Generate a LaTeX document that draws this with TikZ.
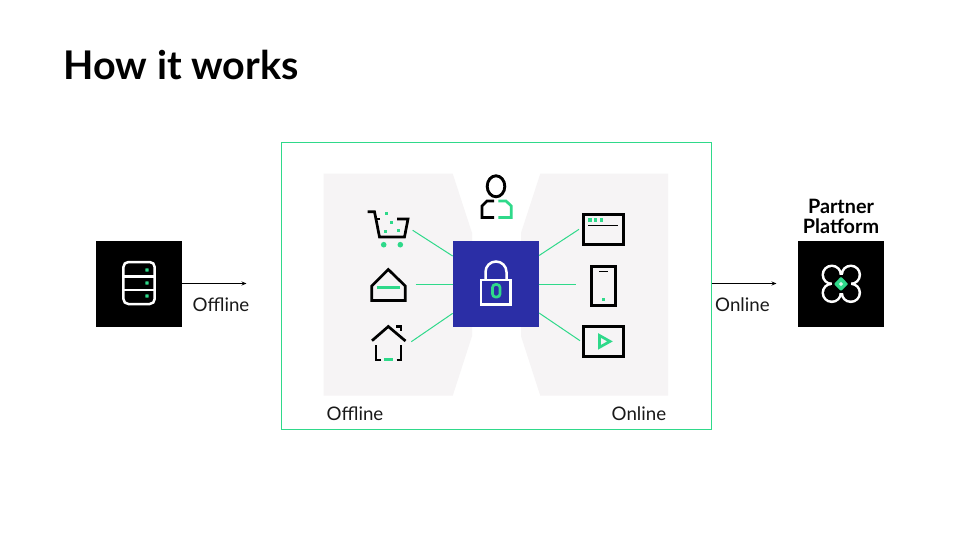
\documentclass[tikz,border=0pt]{standalone}
\usepackage{fontspec}
\setmainfont{Lato}
\usetikzlibrary{arrows.meta}
\definecolor{mint}{HTML}{2FD98A}
\definecolor{pale}{HTML}{F6F4F5}
\definecolor{hubblue}{HTML}{2B2EA6}
\tikzset{
  lab/.style={anchor=base west,inner sep=0pt,font=\fontsize{18.7}{20}\selectfont,text=black!90},
  blk/.style={draw=none,fill=black,minimum size=86pt,inner sep=0pt,outer sep=0pt},
  link/.style={draw=mint,line width=1pt},
  flow/.style={draw=black,line width=0.9pt,-{Stealth[length=5pt,width=4pt]}},
  ico/.style={draw=black,line width=2.7pt,line join=miter},
  gico/.style={draw=mint,line width=2.7pt},
  wico/.style={draw=white,line width=2.5pt},
  panel/.style={fill=pale,draw=none},
}
\begin{document}
\begin{tikzpicture}[x=1pt,y=-1pt]
\useasboundingbox (0,0) rectangle (960,540);
\fill[white] (0,0) rectangle (960,540);
\node[anchor=base west,inner sep=0pt,font=\fontsize{39.5}{42}\selectfont\bfseries] (title) at (63.5,79.2) {How it works};
% frame and panels
\draw[draw=mint,line width=1pt] (281.5,142.5) rectangle (711.5,429.7);
\fill[panel] (323.7,173.7) -- (452.7,173.7) -- (472,233) -- (472,336) -- (452.7,395.7) -- (323.7,395.7) -- cycle;
\fill[panel] (668,173.7) -- (540.3,173.7) -- (521,233) -- (521,336) -- (540.3,395.7) -- (668,395.7) -- cycle;
% nodes
\node[blk,fill=hubblue,minimum size=86.4pt] (hub) at (495.9,283.8) {};
\node[blk] (server) at (138.9,283.5) {};
\node[blk] (partner) at (841,283.5) {};
\coordinate (l1) at (412.7,230.3);
\coordinate (l2) at (415.7,284.4);
\coordinate (l3) at (411.3,341.7);
\coordinate (r1) at (579,229.3);
\coordinate (r2) at (575.7,284.4);
\coordinate (r3) at (580,340.7);
\foreach \c in {l1,l3,r1,r3} \draw[link] (\c) -- (hub);
\draw[link] (l2) -- (l2 -| hub.west);
\draw[link] (r2) -- (r2 -| hub.east);
\coordinate (arrL) at (246.5,283.5);
\coordinate (frameR) at (711.5,283.5);
\coordinate (arrR) at (776.5,283.5);
\draw[flow] (server.east) -- (arrL);
\draw[flow] (frameR) -- (arrR);
% labels
\node[lab] (offA) at (192.5,311) {Offline};
\node[lab] (onA) at (715,311) {Online};
\node[lab] (offB) at (326.5,420) {Offline};
\node[lab] (onB) at (611.5,420) {Online};
\node[anchor=base,inner sep=0pt,font=\fontsize{19.8}{20}\selectfont\bfseries] (pp1) at (841,213.6) {Partner};
\node[anchor=base,inner sep=0pt,font=\fontsize{19.8}{20}\selectfont\bfseries] (pp2) at (841,233.4) {Platform};
% cart
\draw[ico] (367.7,211.7) -- (374.5,211.7) -- (379.5,237) -- (404.5,237) -- (408,219) -- (397,219);
\draw[ico] (376,219) -- (380,219);
\foreach \p in {(386.7,213.7),(391.3,222.3),(385.3,231),(398.7,230)} \fill[mint] \p +(-1.5,-1.5) rectangle +(1.5,1.5);
\fill[mint] (383.7,244.7) circle (2.8);
\fill[mint] (400.3,244.7) circle (2.8);
% envelope
\draw[ico] (371.7,300.5) -- (371.7,286) -- (388.3,269.5) -- (405.3,286) -- (405.3,300.5) -- cycle;
\draw[gico] (376.7,287.7) -- (400,287.7);
% house
\draw[ico] (372,340.7) -- (388.3,326.5) -- (405.5,341);
\draw[ico] (396,326.5) -- (401,326.5) -- (401,331);
\draw[ico] (376,345) -- (376,360) -- (380.7,360);
\draw[ico] (396.7,360) -- (401,360) -- (401,345);
\draw[gico] (384,359.5) -- (392.7,359.5);
% person
\draw[ico,line width=2.9pt] (496,186.3) ellipse (8.8 and 10.5);
\draw[ico] (494,201) -- (487,201) -- (482,206) -- (482,217.5) -- (494,217.5);
\draw[gico] (498.3,201) -- (506,201) -- (511.3,206) -- (511.3,217.5) -- (498.3,217.5);
% lock
\draw[wico] (481,280) rectangle (510.7,304.5);
\draw[wico] (485.5,280) -- (485.5,272) arc (180:360:10.5) -- (506.5,280);
\draw[gico,rounded corners=3pt] (492.5,297) rectangle (500,284.5);
% browser
\draw[ico,fill=pale,line width=3pt] (583.7,214) rectangle (623,244.5);
\foreach \x in {590,595.8,601.7} \fill[mint] (\x,220) +(-1.6,-1.6) rectangle +(1.6,1.6);
\draw[draw=black,line width=1.3pt] (588.3,225.4) -- (618.3,225.4);
% phone
\draw[ico,fill=pale,line width=2.8pt] (591.2,266.2) rectangle (615.5,305.5);
\draw[draw=black,line width=1.3pt] (599,271.7) -- (608,271.7);
\fill[mint] (603.3,299.4) +(-1.5,-1.5) rectangle +(1.5,1.5);
% video
\draw[ico,fill=pale,line width=3pt] (583.7,326.7) rectangle (623,356.3);
\draw[gico,line width=2.7pt] (599.5,335.5) -- (599.5,347.3) -- (610,341.4) -- cycle;
% server icon
\draw[wico,rounded corners=5pt] (123.4,262) rectangle (154.7,304);
\draw[wico] (123.4,276.7) -- (154.7,276.7);
\draw[wico] (123.4,290) -- (154.7,290);
\foreach \y in {270,283,296} \fill[mint,rounded corners=0.6pt] (147,\y) +(-1.7,-1.7) rectangle +(1.7,1.7);
% partner icon
\foreach \dx/\dy in {-9.5/-9,9.5/-9,-9.5/9,9.5/9} \fill[white] (841.3+\dx,283.8+\dy) circle (10.3);
\fill[white] (831.8,274.8) rectangle (850.8,292.8);
\foreach \dx/\dy in {-9.5/-9,9.5/-9,-9.5/9,9.5/9} \fill[black] (841.3+\dx,283.8+\dy) circle (7.7);
\fill[black] (831.8,274.8) rectangle (850.8,292.8);
\fill[mint,rounded corners=1pt] (841,276.7) -- (848.2,284) -- (841,291.2) -- (833.8,284) -- cycle;
\fill[white!80!mint] (841,281.8) -- (843.2,284) -- (841,286.2) -- (838.8,284) -- cycle;
\end{tikzpicture}
\end{document}
